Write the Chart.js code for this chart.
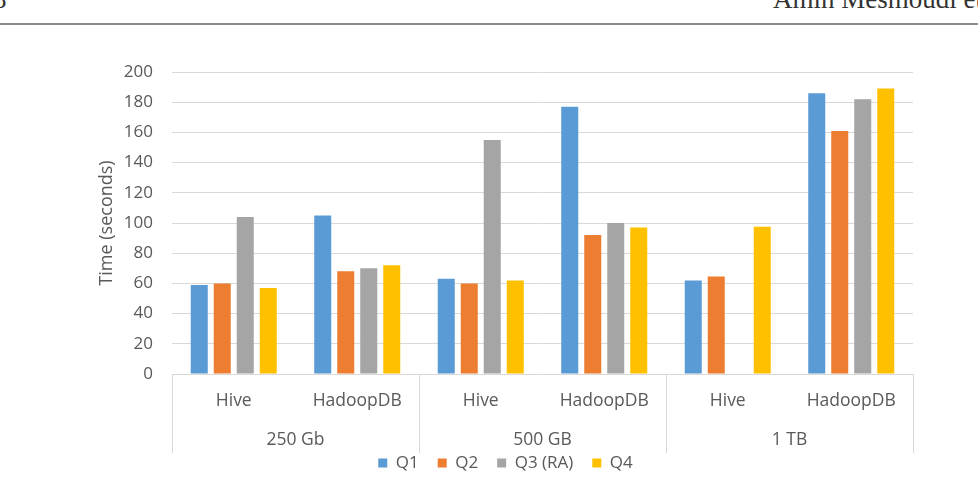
<!DOCTYPE html>
<html>
<head>
<meta charset="utf-8">
<script src="https://cdn.jsdelivr.net/npm/chart.js"></script>
<style>
  html, body { margin: 0; padding: 0; background: #fff; }
  body { width: 978px; height: 496px; position: relative; overflow: hidden; }
  .hdr { position: absolute; font-family: "Liberation Serif", "DejaVu Serif", serif; font-size: 27px; color: #333; line-height: 27px; white-space: nowrap; }
  #pageNo { left: -7px; top: -14px; }
  #author { left: 773px; top: -14px; }
  #rule { position: absolute; left: 0; top: 23px; width: 978px; height: 0; border-top: 2px solid #8c8c8c; }
  #wrap { position: absolute; left: 0; top: 0; width: 978px; height: 496px; }
</style>
</head>
<body>
<div class="hdr" id="pageNo">8</div>
<div class="hdr" id="author">Amin Mesmoudi et al.</div>
<div id="rule"></div>
<div id="wrap"><canvas id="timeChart"></canvas></div>

<script>
// datos
var systems = ['Hive', 'HadoopDB', 'Hive', 'HadoopDB', 'Hive', 'HadoopDB'];
var dataSizes = ['250 Gb', '500 GB', '1 TB'];
var q1 = [59, 105, 63, 177, 62, 186];
var q2 = [60, 68, 60, 92, 64.5, 161];
var q3 = [104, 70, 155, 100, null, 182];
var q4 = [57, 72, 62, 97, 97.5, 189];
var yTicks = [0, 20, 40, 60, 80, 100, 120, 140, 160, 180, 200];

var colors = {
    'Q1': '#5b9bd5',
    'Q2': '#ed7d31',
    'Q3 (RA)': '#a5a5a5',
    'Q4': '#ffc000'
};

var font = "'Open Sans', 'Noto Sans', sans-serif";
var gray = '#595959';
var lineGray = '#d9d9d9';

// líneas que separan los grupos en el eje X
var groupLines = {
    id: 'groupLines',
    afterLayout: function(chart) {
        // subir un poco la leyenda, más cerca de las etiquetas
        if (chart.legend) {
            chart.legend.top -= 14.5;
            chart.legend.bottom -= 14.5;
        }
    },
    afterDraw: function(chart) {
        var x = chart.scales.x, area = chart.chartArea, ctx = chart.ctx;
        var bottom = area.bottom + 79;
        var xs = [area.left, area.right];
        for (var i = 1; i < systems.length - 1; i += 2) {
            xs.push((x.getPixelForValue(i) + x.getPixelForValue(i + 1)) / 2);
        }
        ctx.save();
        ctx.strokeStyle = lineGray;
        ctx.lineWidth = 1;
        xs.forEach(function(px) {
            px = Math.round(px) + 0.5;
            ctx.beginPath();
            ctx.moveTo(px, area.bottom);
            ctx.lineTo(px, bottom);
            ctx.stroke();
        });
        ctx.restore();
    }
};

function makeSet(label, values) {
    return {
        label: label,
        data: values,
        backgroundColor: colors[label],
        borderWidth: 0,
        categoryPercentage: 0.745,
        barPercentage: 0.74
    };
}

var ctx = document.getElementById('timeChart').getContext('2d');
var timeChart = new Chart(ctx, {
    type: 'bar',
    data: {
        labels: systems,
        datasets: [
            makeSet('Q1', q1),
            makeSet('Q2', q2),
            makeSet('Q3 (RA)', q3),
            makeSet('Q4', q4)
        ]
    },
    options: {
        responsive: true,
        maintainAspectRatio: false,
        animation: false,
        layout: {
            padding: { left: 98, right: 65, top: 72, bottom: 0 }
        },
        plugins: {
            legend: {
                position: 'bottom',
                labels: {
                    boxWidth: 9,
                    boxHeight: 9,
                    padding: 19,
                    color: gray,
                    font: { family: font, size: 17 }
                }
            },
            tooltip: { enabled: false }
        },
        scales: {
            x: {
                grid: { display: false, drawTicks: false },
                border: { display: false },
                ticks: {
                    color: gray,
                    padding: 16.5,
                    maxRotation: 0,
                    font: { family: font, size: 17.5 }
                },
                afterFit: function(scale) { scale.height = 38; }
            },
            x2: {
                type: 'category',
                position: 'bottom',
                labels: dataSizes,
                offset: true,
                grid: { display: false, drawTicks: false },
                border: { display: false },
                ticks: {
                    color: gray,
                    padding: 17.5,
                    maxRotation: 0,
                    font: { family: font, size: 17.5 }
                },
                afterFit: function(scale) { scale.height = 38; }
            },
            y: {
                min: 0,
                max: 200,
                afterBuildTicks: function(axis) {
                    axis.ticks = yTicks.map(function(v) { return { value: v }; });
                },
                grid: { color: lineGray, drawTicks: false },
                border: { display: false },
                ticks: {
                    color: gray,
                    padding: 19,
                    font: { family: font, size: 17 }
                },
                title: {
                    display: true,
                    text: 'Time (seconds)',
                    color: gray,
                    font: { family: font, size: 18, lineHeight: 1 },
                    padding: { top: 0, bottom: 0 }
                },
                afterFit: function(scale) { scale.width = 74; }
            }
        }
    },
    plugins: [groupLines]
});
</script>
</body>
</html>
